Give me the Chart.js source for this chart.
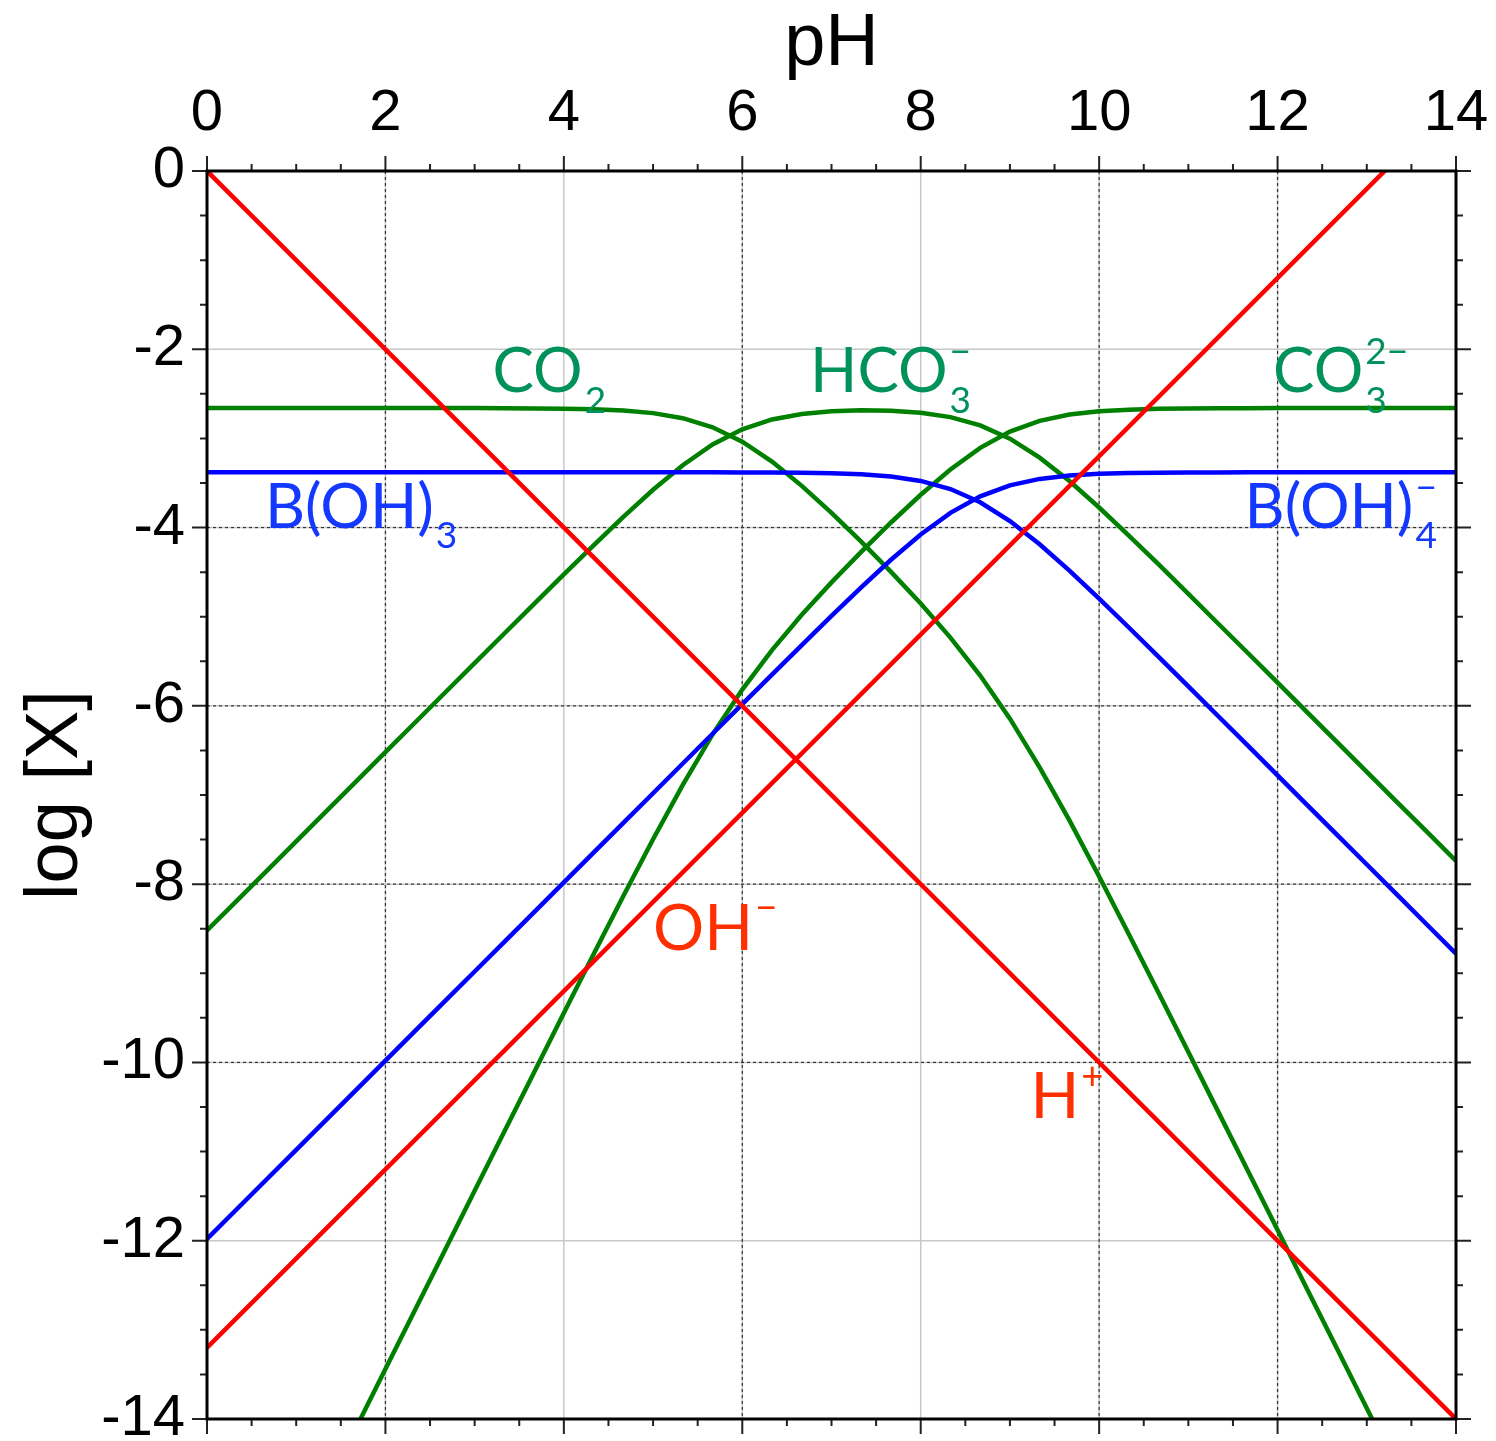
<!DOCTYPE html>
<html>
<head>
<meta charset="utf-8">
<title>log [X] vs pH</title>
<script src="https://cdn.jsdelivr.net/npm/chart.js@4.4.1/dist/chart.umd.min.js"></script>
<style>
  html, body { margin: 0; padding: 0; background: #fff; }
  #wrap { width: 1496px; height: 1441px; }
</style>
</head>
<body>
<div id="wrap"><canvas id="chart" width="1496" height="1441"></canvas></div>
<script>
// pH grid shared by the carbonate and borate curves
const pH = [0, 0.333, 0.667, 1, 1.333, 1.667, 2, 2.333, 2.667, 3, 3.333, 3.667, 4, 4.333, 4.667,
  5, 5.333, 5.667, 6, 6.333, 6.667, 7, 7.333, 7.667, 8, 8.333, 8.667, 9, 9.333, 9.667,
  10, 10.333, 10.667, 11, 11.333, 11.667, 12, 12.333, 12.667, 13, 13.333, 13.667, 14];

const logCO2 = [-2.66, -2.66, -2.66, -2.66, -2.66, -2.66, -2.66, -2.66, -2.66, -2.66, -2.661, -2.663, -2.666, -2.673, -2.687,
  -2.716, -2.773, -2.875, -3.037, -3.26, -3.532, -3.835, -4.158, -4.497, -4.852, -5.234, -5.66, -6.143, -6.689, -7.285,
  -7.915, -8.563, -9.221, -9.884, -10.549, -11.214, -11.88, -12.547, -13.213, -13.88, -14.547, -15.213, -15.88];

const logHCO3 = [-8.52, -8.187, -7.853, -7.52, -7.187, -6.853, -6.52, -6.187, -5.853, -5.52, -5.188, -4.856, -4.526, -4.2, -3.88,
  -3.576, -3.3, -3.068, -2.897, -2.787, -2.725, -2.695, -2.685, -2.69, -2.712, -2.761, -2.853, -3.003, -3.216, -3.478,
  -3.775, -4.09, -4.414, -4.744, -5.076, -5.407, -5.74, -6.074, -6.406, -6.74, -7.074, -7.406, -7.74];

const logCO3 = [-17.44, -16.774, -16.106, -15.44, -14.774, -14.106, -13.44, -12.774, -12.106, -11.44, -10.775, -10.109, -9.446, -8.787, -8.133,
  -7.496, -6.887, -6.321, -5.817, -5.374, -4.978, -4.615, -4.272, -3.943, -3.632, -3.348, -3.106, -2.923, -2.803, -2.731,
  -2.695, -2.677, -2.667, -2.664, -2.662, -2.661, -2.66, -2.66, -2.66, -2.66, -2.66, -2.66, -2.66];

const logBOH3 = [-3.38, -3.38, -3.38, -3.38, -3.38, -3.38, -3.38, -3.38, -3.38, -3.38, -3.38, -3.38, -3.38, -3.38, -3.38,
  -3.38, -3.38, -3.38, -3.381, -3.382, -3.385, -3.391, -3.403, -3.428, -3.477, -3.568, -3.716, -3.926, -4.187, -4.483,
  -4.797, -5.121, -5.451, -5.782, -6.114, -6.447, -6.78, -7.113, -7.447, -7.78, -8.113, -8.447, -8.78];

const logBOH4 = [-11.98, -11.647, -11.313, -10.98, -10.647, -10.313, -9.98, -9.647, -9.313, -8.98, -8.647, -8.313, -7.98, -7.647, -7.313,
  -6.98, -6.647, -6.313, -5.981, -5.649, -5.318, -4.991, -4.67, -4.361, -4.077, -3.835, -3.649, -3.526, -3.454, -3.416,
  -3.397, -3.388, -3.384, -3.382, -3.381, -3.38, -3.38, -3.38, -3.38, -3.38, -3.38, -3.38, -3.38];

// straight lines: H+ and OH-
const hPH = [0, 14];
const logH = [0, -14];
const ohPH = [0, 14];
const logOH = [-13.2, 0.8];

const xTicks = [0, 2, 4, 6, 8, 10, 12, 14];
const yTicks = [0, -2, -4, -6, -8, -10, -12, -14];

const GREEN = '#008000', BLUE = '#0000ff', RED = '#ff0000';
const GREEN_TXT = '#00925a', BLUE_TXT = '#1538ff', RED_TXT = '#ff3000';
const axisFont = '"Liberation Sans", Arial, Helvetica, sans-serif';
const labelFont = 'Lato, "Open Sans", sans-serif';

function pts(xs, ys) {
  return xs.map((x, i) => ({ x: x, y: ys[i] }));
}

function line(data, color) {
  return { data: data, borderColor: color, borderWidth: 4.5, pointRadius: 0, tension: 0, fill: false };
}

// grid: light solid everywhere, dark dotted on some lines
const gridPlugin = {
  id: 'gridLines',
  beforeDatasetsDraw(chart) {
    const { ctx, chartArea: a, scales: { x, y } } = chart;
    const dottedX = [2, 6, 10, 12];
    const dottedY = [-4, -6, -8, -10];
    ctx.save();
    ctx.lineWidth = 1.5;
    ctx.strokeStyle = '#c8c8c8';
    xTicks.slice(1, -1).forEach(v => {
      const px = x.getPixelForValue(v);
      ctx.beginPath(); ctx.moveTo(px, a.top); ctx.lineTo(px, a.bottom); ctx.stroke();
    });
    yTicks.slice(1, -1).forEach(v => {
      const py = y.getPixelForValue(v);
      ctx.beginPath(); ctx.moveTo(a.left, py); ctx.lineTo(a.right, py); ctx.stroke();
    });
    ctx.setLineDash([3, 3]);
    ctx.strokeStyle = '#333';
    ctx.lineWidth = 1.2;
    dottedX.forEach(v => {
      const px = x.getPixelForValue(v);
      ctx.beginPath(); ctx.moveTo(px, a.top); ctx.lineTo(px, a.bottom); ctx.stroke();
    });
    dottedY.forEach(v => {
      const py = y.getPixelForValue(v);
      ctx.beginPath(); ctx.moveTo(a.left, py); ctx.lineTo(a.right, py); ctx.stroke();
    });
    ctx.restore();
  }
};

// frame and outward ticks on all four sides
const framePlugin = {
  id: 'frame',
  afterDraw(chart) {
    const { ctx, chartArea: a, scales: { x, y } } = chart;
    ctx.save();
    ctx.strokeStyle = '#222';
    ctx.lineWidth = 2;
    for (let v = 0; v <= 14.001; v += 0.5) {
      const len = (Math.abs(v % 2) < 0.01) ? 15 : 7;
      const px = x.getPixelForValue(v);
      ctx.beginPath();
      ctx.moveTo(px, a.top); ctx.lineTo(px, a.top - len);
      ctx.moveTo(px, a.bottom); ctx.lineTo(px, a.bottom + len);
      ctx.stroke();
      const py = y.getPixelForValue(-v);
      ctx.beginPath();
      ctx.moveTo(a.left, py); ctx.lineTo(a.left - len, py);
      ctx.moveTo(a.right, py); ctx.lineTo(a.right + len, py);
      ctx.stroke();
    }
    ctx.strokeStyle = '#000';
    ctx.lineWidth = 3;
    ctx.strokeRect(a.left, a.top, a.right - a.left, a.bottom - a.top);
    ctx.restore();
  }
};

// species names with sub- and superscripts
const speciesLabels = [
  { at: [3.2, -2.48], size: 62, color: GREEN_TXT, parts: [{ t: 'CO' }, { sub: '2' }] },
  { at: [6.76, -2.48], size: 62, color: GREEN_TXT, parts: [{ t: 'HCO' }, { sub: '3', sup: '\u2212' }] },
  { at: [11.95, -2.48], size: 62, color: GREEN_TXT, parts: [{ t: 'CO' }, { sub: '3', sup: '2\u2212' }] },
  { at: [0.65, -4.0], size: 62, color: BLUE_TXT, parts: [{ t: 'B(OH)' }, { sub: '3' }] },
  { at: [11.63, -4.0], size: 62, color: BLUE_TXT, parts: [{ t: 'B(OH)' }, { sub: '4', sup: '\u2212' }] },
  { at: [5.0, -8.74], size: 64, color: RED_TXT, parts: [{ t: 'OH' }, { sup: '\u2212' }] },
  { at: [9.23, -10.62], size: 64, color: RED_TXT, parts: [{ t: 'H' }, { sup: '+' }] }
];

const labelPlugin = {
  id: 'speciesLabels',
  afterDatasetsDraw(chart) {
    const { ctx, scales: { x, y } } = chart;
    ctx.save();
    ctx.textBaseline = 'alphabetic';
    ctx.textAlign = 'left';
    speciesLabels.forEach(l => {
      let px = x.getPixelForValue(l.at[0]);
      const py = y.getPixelForValue(l.at[1]);
      const small = Math.round(l.size * 0.6);
      ctx.fillStyle = l.color;
      l.parts.forEach(p => {
        if (p.t) {
          ctx.font = l.size + 'px ' + labelFont;
          ctx.fillText(p.t, px, py);
          px += ctx.measureText(p.t).width;
        } else {
          ctx.font = small + 'px ' + labelFont;
          let w = 0;
          if (p.sub) {
            ctx.fillText(p.sub, px + 2, py + l.size * 0.33);
            w = Math.max(w, ctx.measureText(p.sub).width);
          }
          if (p.sup) {
            ctx.fillText(p.sup, px + 2, py - l.size * 0.45);
            w = Math.max(w, ctx.measureText(p.sup).width);
          }
          px += w + 2;
        }
      });
    });
    ctx.restore();
  }
};

new Chart(document.getElementById('chart').getContext('2d'), {
  type: 'line',
  data: {
    datasets: [
      line(pts(hPH, logH), RED),
      line(pts(ohPH, logOH), RED),
      line(pts(pH, logBOH3), BLUE),
      line(pts(pH, logBOH4), BLUE),
      line(pts(pH, logCO2), GREEN),
      line(pts(pH, logHCO3), GREEN),
      line(pts(pH, logCO3), GREEN)
    ]
  },
  options: {
    responsive: false,
    animation: false,
    layout: { padding: { left: 0, right: 40, top: 0, bottom: 22 } },
    plugins: { legend: { display: false }, tooltip: { enabled: false } },
    scales: {
      x: {
        type: 'linear',
        position: 'top',
        min: 0, max: 14,
        afterBuildTicks: s => { s.ticks = xTicks.map(v => ({ value: v })); },
        afterFit: s => { s.height = 171; s.paddingLeft = 0; s.paddingRight = 0; },
        grid: { display: false, drawTicks: false },
        border: { display: false },
        ticks: { autoSkip: false, maxRotation: 0, padding: 22, color: '#000', font: { family: axisFont, size: 58 } },
        title: { display: true, text: 'pH', color: '#000', padding: { top: 0, bottom: 0 }, font: { family: axisFont, size: 74 } }
      },
      y: {
        type: 'linear',
        position: 'left',
        min: -14, max: 0,
        afterBuildTicks: s => { s.ticks = yTicks.map(v => ({ value: v })); },
        afterFit: s => { s.width = 207; s.paddingTop = 0; s.paddingBottom = 0; },
        grid: { display: false, drawTicks: false },
        border: { display: false },
        ticks: { autoSkip: false, padding: 22, color: '#000', font: { family: axisFont, size: 58 } },
        title: { display: true, text: 'log [X]', color: '#000', padding: { top: 12, bottom: 0 }, font: { family: axisFont, size: 74 } }
      }
    }
  },
  plugins: [gridPlugin, labelPlugin, framePlugin]
});
</script>
</body>
</html>
